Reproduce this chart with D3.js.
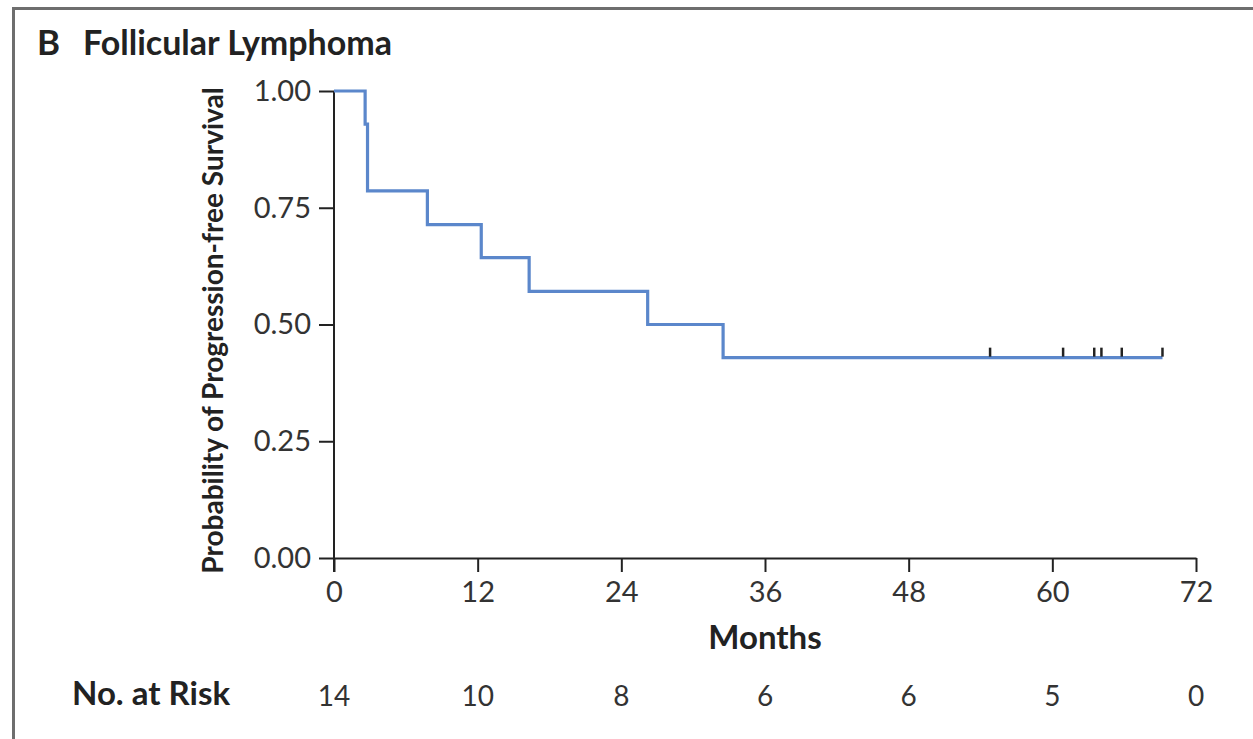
<!DOCTYPE html>
<html>
<head>
<meta charset="utf-8">
<script src="https://cdn.jsdelivr.net/npm/d3@7"></script>
<style>
  body { margin: 0; background: #fff; }
  svg { display: block; font-family: Lato, "Open Sans", sans-serif; }
</style>
</head>
<body>
<div id="chart"></div>
<script>
// Kaplan-Meier curve: step times (months) and survival after each step
const eventMonths = [0, 2.6, 2.8, 7.8, 12.3, 16.3, 26.2, 32.5, 69.2];
const survival = [1.0, 0.929, 0.786, 0.714, 0.643, 0.571, 0.5, 0.429, 0.429];
// censored observations (months)
const censorMonths = [54.8, 60.9, 63.5, 64.1, 65.8, 69.2];
const censorLevel = 0.429;

const xTicks = [0, 12, 24, 36, 48, 60, 72];
const yTicks = [0, 0.25, 0.5, 0.75, 1.0];
const atRiskMonths = [0, 12, 24, 36, 48, 60, 72];
const atRisk = [14, 10, 8, 6, 6, 5, 0];

const width = 1253, height = 739;
const svg = d3.select("#chart").append("svg")
    .attr("width", width)
    .attr("height", height);

// panel frame (top and left rules)
svg.append("line")
    .attr("x1", 12).attr("x2", width).attr("y1", 8.5).attr("y2", 8.5)
    .attr("stroke", "#6e6e6e").attr("stroke-width", 3);
svg.append("line")
    .attr("x1", 13.5).attr("x2", 13.5).attr("y1", 7).attr("y2", height)
    .attr("stroke", "#6e6e6e").attr("stroke-width", 3);

// title
svg.append("text")
    .attr("x", 37).attr("y", 55)
    .attr("font-size", 35).attr("font-weight", "bold").attr("fill", "#222")
    .text("B");
svg.append("text")
    .attr("x", 83).attr("y", 55)
    .attr("font-size", 34).attr("font-weight", "bold").attr("fill", "#222")
    .text("Follicular Lymphoma");

const x = d3.scaleLinear().domain([0, 72]).range([334, 1196]);
const y = d3.scaleLinear().domain([0, 1]).range([558, 91]);

// axes
const xAxis = svg.append("g")
    .attr("transform", `translate(0,${y(0)})`)
    .call(d3.axisBottom(x).tickValues(xTicks).tickSize(14).tickPadding(9).tickSizeOuter(0));
const yAxis = svg.append("g")
    .attr("transform", `translate(${x(0)},0)`)
    .call(d3.axisLeft(y).tickValues(yTicks).tickSize(15).tickPadding(8).tickSizeOuter(0)
        .tickFormat(d3.format(".2f")));

[xAxis, yAxis].forEach(g => {
    g.select(".domain").attr("stroke", "#222").attr("stroke-width", 2);
    g.selectAll(".tick line").attr("stroke", "#222").attr("stroke-width", 2);
    g.selectAll(".tick text")
        .attr("font-family", "Lato, 'Open Sans', sans-serif")
        .attr("font-size", 29).attr("fill", "#333");
});
// y-axis line extends below zero like a tick
yAxis.select(".domain").attr("d", `M0,${y(1)}V${y(0) + 14}`);

// axis titles
svg.append("text")
    .attr("x", x(36)).attr("y", 649)
    .attr("text-anchor", "middle")
    .attr("font-size", 33).attr("font-weight", "bold").attr("fill", "#222")
    .text("Months");
svg.append("text")
    .attr("transform", `translate(223,${(y(0) + y(1)) / 2 + 6}) rotate(-90)`)
    .attr("text-anchor", "middle")
    .attr("font-size", 28).attr("font-weight", "bold").attr("fill", "#222")
    .text("Probability of Progression-free Survival");

// survival step curve
const pts = eventMonths.map((m, i) => [m, survival[i]]);
const line = d3.line()
    .x(d => x(d[0]))
    .y(d => y(d[1]))
    .curve(d3.curveStepAfter);
svg.append("path")
    .datum(pts)
    .attr("d", line)
    .attr("fill", "none")
    .attr("stroke", "#5b87cb")
    .attr("stroke-width", 3.2);

// censor marks
svg.append("g")
    .selectAll("line")
    .data(censorMonths)
    .enter().append("line")
    .attr("x1", d => x(d)).attr("x2", d => x(d))
    .attr("y1", y(censorLevel) - 1).attr("y2", y(censorLevel) - 10)
    .attr("stroke", "#222").attr("stroke-width", 2.5);

// number at risk
svg.append("text")
    .attr("x", 72).attr("y", 705)
    .attr("font-size", 33).attr("font-weight", "bold").attr("fill", "#222")
    .text("No. at Risk");
svg.append("g")
    .selectAll("text")
    .data(atRisk)
    .enter().append("text")
    .attr("x", (d, i) => x(atRiskMonths[i]))
    .attr("y", 706)
    .attr("text-anchor", "middle")
    .attr("font-size", 28).attr("fill", "#333")
    .text(d => d);
</script>
</body>
</html>
